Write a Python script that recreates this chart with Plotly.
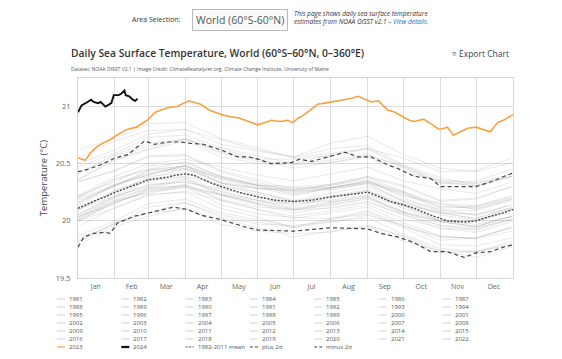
import plotly.graph_objects as go

# ---------------- data ----------------
month_names = ["Jan", "Feb", "Mar", "Apr", "May", "Jun", "Jul", "Aug", "Sep", "Oct", "Nov", "Dec"]
month_starts = [1, 32, 60, 91, 121, 152, 182, 213, 244, 274, 305, 335, 366]
month_mids = [16, 46, 75, 105.5, 136, 166.5, 197, 228, 258.5, 289, 319.5, 350]
y_ticks = [19.5, 20, 20.5, 21]

gray_days = [1, 32, 60, 91, 121, 152, 182, 213, 244, 274, 305, 335, 365]
y1981 = [None, None, None, None, None, None, None, None, 19.96, 19.87, 19.74, 19.73, 19.80]
y1982 = [19.81, 19.98, 20.07, 20.16, 20.03, 19.97, 19.96, 19.99, 20.05, 19.96, 19.83, 19.85, 19.95]
y1983 = [20.00, 20.11, 20.23, 20.25, 20.11, 20.03, 19.94, 19.99, 20.03, 19.88, 19.76, 19.73, 19.79]
y1984 = [19.82, 19.98, 20.07, 20.10, 20.02, 19.94, 19.86, 19.91, 19.95, 19.82, 19.74, 19.68, 19.77]
y1985 = [19.79, 19.95, 20.04, 20.11, 19.97, 19.91, 19.89, 19.90, 19.96, 19.86, 19.72, 19.73, 19.82]
y1986 = [19.84, 19.97, 20.12, 20.16, 20.05, 19.99, 19.94, 20.01, 20.08, 19.95, 19.86, 19.85, 19.94]
y1987 = [20.00, 20.16, 20.27, 20.30, 20.23, 20.15, 20.09, 20.14, 20.19, 20.07, 19.99, 19.95, 20.04]
y1988 = [20.03, 20.18, 20.24, 20.30, 20.14, 20.06, 20.03, 20.02, 20.06, 19.94, 19.79, 19.78, 19.85]
y1989 = [19.87, 20.00, 20.15, 20.19, 20.07, 20.01, 19.95, 20.02, 20.09, 19.96, 19.86, 19.85, 19.94]
y1990 = [20.00, 20.16, 20.26, 20.29, 20.22, 20.14, 20.07, 20.12, 20.17, 20.05, 19.96, 19.92, 20.01]
y1991 = [20.01, 20.17, 20.25, 20.32, 20.19, 20.12, 20.10, 20.11, 20.16, 20.06, 19.93, 19.93, 20.02]
y1992 = [20.04, 20.15, 20.28, 20.31, 20.18, 20.10, 20.02, 20.07, 20.12, 19.98, 19.87, 19.84, 19.91]
y1993 = [19.95, 20.12, 20.22, 20.26, 20.18, 20.10, 20.04, 20.09, 20.14, 20.02, 19.94, 19.90, 19.99]
y1994 = [20.03, 20.20, 20.28, 20.36, 20.23, 20.16, 20.15, 20.17, 20.22, 20.13, 20.00, 20.00, 20.10]
y1995 = [20.10, 20.22, 20.35, 20.38, 20.25, 20.18, 20.10, 20.16, 20.21, 20.07, 19.96, 19.94, 20.01]
y1996 = [20.02, 20.18, 20.29, 20.31, 20.23, 20.15, 20.10, 20.14, 20.20, 20.08, 19.99, 19.95, 20.04]
y1997 = [20.09, 20.27, 20.37, 20.46, 20.33, 20.28, 20.28, 20.31, 20.38, 20.30, 20.17, 20.19, 20.30]
y1998 = [20.34, 20.44, 20.56, 20.57, 20.43, 20.34, 20.25, 20.29, 20.33, 20.17, 20.05, 20.01, 20.07]
y1999 = [20.05, 20.21, 20.31, 20.34, 20.26, 20.18, 20.11, 20.16, 20.21, 20.08, 20.00, 19.95, 20.04]
y2000 = [20.06, 20.22, 20.30, 20.37, 20.23, 20.18, 20.16, 20.18, 20.23, 20.14, 20.00, 20.00, 20.10]
y2001 = [20.12, 20.24, 20.39, 20.42, 20.31, 20.25, 20.18, 20.24, 20.30, 20.17, 20.07, 20.06, 20.14]
y2002 = [20.15, 20.31, 20.42, 20.45, 20.38, 20.31, 20.24, 20.29, 20.34, 20.22, 20.15, 20.10, 20.19]
y2003 = [20.21, 20.37, 20.45, 20.52, 20.38, 20.31, 20.29, 20.29, 20.34, 20.24, 20.09, 20.09, 20.18]
y2004 = [20.18, 20.30, 20.44, 20.48, 20.37, 20.29, 20.22, 20.29, 20.35, 20.23, 20.13, 20.11, 20.19]
y2005 = [20.20, 20.36, 20.45, 20.48, 20.39, 20.31, 20.23, 20.28, 20.32, 20.18, 20.10, 20.05, 20.14]
y2006 = [20.16, 20.32, 20.40, 20.48, 20.34, 20.29, 20.27, 20.29, 20.35, 20.26, 20.12, 20.13, 20.22]
y2007 = [20.20, 20.31, 20.44, 20.46, 20.33, 20.25, 20.17, 20.21, 20.26, 20.11, 20.00, 19.97, 20.04]
y2008 = [20.05, 20.21, 20.32, 20.34, 20.28, 20.21, 20.13, 20.20, 20.26, 20.14, 20.07, 20.02, 20.12]
y2009 = [20.13, 20.31, 20.40, 20.49, 20.36, 20.31, 20.30, 20.32, 20.39, 20.31, 20.18, 20.20, 20.30]
y2010 = [20.34, 20.44, 20.57, 20.58, 20.44, 20.36, 20.27, 20.31, 20.36, 20.20, 20.08, 20.05, 20.11]
y2011 = [20.10, 20.26, 20.36, 20.39, 20.31, 20.23, 20.17, 20.22, 20.27, 20.15, 20.07, 20.02, 20.11]
y2012 = [20.16, 20.32, 20.41, 20.48, 20.33, 20.28, 20.26, 20.27, 20.33, 20.25, 20.11, 20.12, 20.20]
y2013 = [20.22, 20.34, 20.48, 20.51, 20.39, 20.32, 20.26, 20.32, 20.38, 20.25, 20.15, 20.13, 20.21]
y2014 = [20.22, 20.39, 20.50, 20.54, 20.47, 20.40, 20.35, 20.41, 20.47, 20.35, 20.28, 20.24, 20.34]
y2015 = [20.36, 20.54, 20.63, 20.72, 20.60, 20.54, 20.54, 20.57, 20.63, 20.55, 20.43, 20.44, 20.55]
y2016 = [20.62, 20.72, 20.85, 20.86, 20.72, 20.64, 20.55, 20.59, 20.64, 20.48, 20.36, 20.33, 20.39]
y2017 = [20.42, 20.58, 20.68, 20.71, 20.63, 20.54, 20.46, 20.51, 20.56, 20.43, 20.35, 20.30, 20.39]
y2018 = [20.36, 20.53, 20.62, 20.70, 20.56, 20.50, 20.49, 20.51, 20.57, 20.48, 20.34, 20.35, 20.45]
y2019 = [20.50, 20.62, 20.76, 20.80, 20.67, 20.61, 20.56, 20.68, 20.74, 20.58, 20.46, 20.43, 20.51]
y2020 = [20.55, 20.70, 20.79, 20.80, 20.71, 20.62, 20.56, 20.63, 20.66, 20.49, 20.38, 20.31, 20.39]
y2021 = [20.41, 20.57, 20.65, 20.72, 20.59, 20.52, 20.50, 20.53, 20.58, 20.47, 20.33, 20.33, 20.41]
y2022 = [20.47, 20.59, 20.73, 20.75, 20.64, 20.57, 20.50, 20.58, 20.63, 20.46, 20.33, 20.31, 20.39]

days_2023 = [1, 7, 12, 17, 22, 28, 32, 42, 50, 59, 66, 76, 84, 91, 94, 104, 111, 121, 129, 136,
             146, 152, 158, 163, 171, 177, 181, 186, 191, 197, 202, 208, 213, 219, 224, 230, 236,
             241, 247, 253, 257, 261, 267, 274, 279, 283, 287, 291, 297, 304, 308, 311, 316, 322,
             328, 335, 341, 347, 353, 358, 366]
vals_2023 = [20.55, 20.53, 20.60, 20.65, 20.68, 20.71, 20.74, 20.80, 20.82, 20.88, 20.95, 20.99, 21.00,
             21.04, 21.05, 21.02, 20.97, 20.93, 20.91, 20.90, 20.86, 20.84, 20.86, 20.88, 20.87, 20.88,
             20.86, 20.90, 20.93, 20.98, 21.02, 21.03, 21.04, 21.05, 21.06, 21.07, 21.09, 21.07, 21.04,
             21.05, 21.01, 20.97, 20.95, 20.91, 20.88, 20.87, 20.88, 20.89, 20.85, 20.80, 20.81, 20.82,
             20.75, 20.78, 20.81, 20.82, 20.80, 20.78, 20.86, 20.88, 20.93]

days_2024 = [1, 4, 9, 12, 14, 18, 20, 24, 29, 31, 35, 37, 40, 41, 44, 47, 49, 51]
vals_2024 = [20.95, 21.01, 21.04, 21.06, 21.04, 21.03, 21.04, 21.00, 21.03, 21.10, 21.10, 21.11,
             21.14, 21.10, 21.09, 21.06, 21.05, 21.07]

mean_days = [1, 9, 16, 24, 32, 40, 46, 53, 60, 68, 75, 83, 91, 98, 106, 113, 121, 136, 152, 167,
             182, 197, 213, 228, 244, 252, 263, 274, 283, 297, 311, 325, 335, 347, 358, 366]
mean_vals = [20.11, 20.15, 20.18, 20.21, 20.25, 20.28, 20.30, 20.33, 20.36, 20.37, 20.38, 20.40,
             20.41, 20.40, 20.36, 20.33, 20.30, 20.25, 20.21, 20.18, 20.17, 20.18, 20.21, 20.23,
             20.25, 20.22, 20.17, 20.14, 20.11, 20.05, 20.00, 19.99, 20.00, 20.04, 20.07, 20.10]

plus_days = [1, 9, 20, 32, 43, 51, 57, 65, 76, 87, 93, 106, 121, 135, 144, 152, 163, 180, 187,
             197, 208, 225, 236, 247, 261, 269, 283, 297, 305, 316, 335, 347, 366]
plus_vals = [20.43, 20.45, 20.49, 20.55, 20.58, 20.65, 20.70, 20.67, 20.69, 20.69, 20.68, 20.67,
             20.62, 20.56, 20.56, 20.54, 20.50, 20.51, 20.54, 20.52, 20.55, 20.60, 20.56, 20.56,
             20.49, 20.46, 20.39, 20.37, 20.30, 20.30, 20.30, 20.34, 20.42]

minus_days = [1, 6, 14, 23, 28, 34, 48, 60, 76, 81, 93, 104, 121, 140, 152, 182, 213, 244, 255,
              269, 283, 297, 311, 325, 335, 347, 358, 366]
minus_vals = [19.77, 19.86, 19.89, 19.90, 19.89, 19.98, 20.04, 20.07, 20.11, 20.12, 20.10, 20.05,
              20.01, 19.95, 19.92, 19.91, 19.94, 19.93, 19.89, 19.86, 19.81, 19.73, 19.73, 19.68,
              19.72, 19.73, 19.77, 19.79]

gray_years = [1981, 1982, 1983, 1984, 1985, 1986, 1987, 1988, 1989, 1990, 1991, 1992, 1993, 1994,
              1995, 1996, 1997, 1998, 1999, 2000, 2001, 2002, 2003, 2004, 2005, 2006, 2007, 2008,
              2009, 2010, 2011, 2012, 2013, 2014, 2015, 2016, 2017, 2018, 2019, 2020, 2021, 2022]
gray_series = [y1981, y1982, y1983, y1984, y1985, y1986, y1987, y1988, y1989, y1990, y1991, y1992,
               y1993, y1994, y1995, y1996, y1997, y1998, y1999, y2000, y2001, y2002, y2003, y2004,
               y2005, y2006, y2007, y2008, y2009, y2010, y2011, y2012, y2013, y2014, y2015, y2016,
               y2017, y2018, y2019, y2020, y2021, y2022]

# ---------------- styling / layout ----------------
OFF = 8                      # page body margin the browser adds around the figure
W, H = 562 - OFF, 359 - OFF
PLOT_L, PLOT_R, PLOT_T, PLOT_B = 78, 513, 78, 278     # plot box in window pixels
L, T = PLOT_L - OFF, PLOT_T - OFF
R, B = W - (PLOT_R - OFF), H - (PLOT_B - OFF)
PW, PH = PLOT_R - PLOT_L, PLOT_B - PLOT_T
FONT = "Open Sans"
GRAY = "rgba(150,150,150,0.21)"
ORANGE = "#f4a340"
DASHC = "#444444"


def pxx(px):
    return (px - PLOT_L) / PW


def pxy(py):
    return (PLOT_B - py) / PH


fig = go.Figure()

for yr, vals in zip(gray_years, gray_series):
    fig.add_trace(go.Scatter(x=gray_days, y=vals, mode="lines", name=str(yr),
                             line=dict(color=GRAY, width=1), hoverinfo="skip", showlegend=False))

fig.add_trace(go.Scatter(x=days_2023, y=vals_2023, mode="lines", name="2023",
                         line=dict(color=ORANGE, width=1.6), showlegend=False))
fig.add_trace(go.Scatter(x=days_2024, y=vals_2024, mode="lines", name="2024",
                         line=dict(color="#111111", width=1.9), showlegend=False))
fig.add_trace(go.Scatter(x=mean_days, y=mean_vals, mode="lines", name="1982-2011 mean",
                         line=dict(color=DASHC, width=1.4, dash="2px,1.5px"), showlegend=False))
fig.add_trace(go.Scatter(x=plus_days, y=plus_vals, mode="lines", name="plus 2σ",
                         line=dict(color=DASHC, width=1.2, dash="4px,3px"), showlegend=False))
fig.add_trace(go.Scatter(x=minus_days, y=minus_vals, mode="lines", name="minus 2σ",
                         line=dict(color=DASHC, width=1.2, dash="4px,3px"), showlegend=False))

annotations = []
shapes = []

# header
annotations.append(dict(xref="paper", yref="paper", x=pxx(130), y=pxy(20), xanchor="left",
                        yanchor="middle", showarrow=False, text="Area Selection:",
                        font=dict(family=FONT, size=7, color="#333")))
annotations.append(dict(xref="paper", yref="paper", x=pxx(239.5), y=pxy(20), xanchor="center",
                        yanchor="middle", showarrow=False, text="World (60°S-60°N)",
                        font=dict(family=FONT, size=10.5, color="#555"),
                        bordercolor="#bbbbbb", borderwidth=1, borderpad=3, bgcolor="#fbfbfb"))
annotations.append(dict(xref="paper", yref="paper", x=pxx(292), y=pxy(18), xanchor="left",
                        yanchor="middle", showarrow=False, align="left",
                        text="<i>This page shows daily sea surface temperature<br>"
                             "estimates from NOAA OISST v2.1 – <span style='color:#2a6ebb'>View details.</span></i>",
                        font=dict(family=FONT, size=6.5, color="#333")))
annotations.append(dict(xref="paper", yref="paper", x=pxx(69), y=pxy(53), xanchor="left",
                        yanchor="middle", showarrow=False,
                        text="Daily Sea Surface Temperature, World (60°S–60°N, 0–360°E)",
                        font=dict(family=FONT, size=10.3, color="#333", weight=600)))
annotations.append(dict(xref="paper", yref="paper", x=pxx(450), y=pxy(54), xanchor="left",
                        yanchor="middle", showarrow=False, text="≡ Export Chart",
                        font=dict(family=FONT, size=8.5, color="#333f5a")))
annotations.append(dict(xref="paper", yref="paper", x=pxx(69), y=pxy(69), xanchor="left",
                        yanchor="middle", showarrow=False,
                        text="Dataset: NOAA OISST V2.1 | Image Credit: ClimateReanalyzer.org, "
                             "Climate Change Institute, University of Maine",
                        font=dict(family=FONT, size=5, color="#555")))

# legend (7 columns, row-major like the original)
legend_names = [str(y) for y in gray_years] + ["2023", "2024", "1982-2011 mean", "plus 2σ", "minus 2σ"]
for i, name in enumerate(legend_names):
    col, row = i % 7, i // 7
    tx = 67 + col * 64.3
    ty = 299 + row * 8
    annotations.append(dict(xref="paper", yref="paper", x=pxx(tx), y=pxy(ty), xanchor="left",
                            yanchor="middle", showarrow=False, text=name,
                            font=dict(family=FONT, size=6, color="#555")))
    if name == "2023":
        ln = dict(color=ORANGE, width=1.2)
    elif name == "2024":
        ln = dict(color="#111111", width=2.2)
    elif name == "1982-2011 mean":
        ln = dict(color=DASHC, width=1.2, dash="2px,1.5px")
    elif name in ("plus 2σ", "minus 2σ"):
        ln = dict(color=DASHC, width=1.2, dash="3px,2px")
    else:
        ln = dict(color="#d2d2d2", width=1)
    shapes.append(dict(type="line", xref="paper", yref="paper", x0=pxx(tx - 10), x1=pxx(tx - 2),
                       y0=pxy(ty), y1=pxy(ty), line=ln))

fig.update_layout(
    width=W, height=H,
    margin=dict(l=L, r=R, t=T, b=B, pad=0),
    paper_bgcolor="white", plot_bgcolor="white",
    font=dict(family=FONT, color="#555"),
    showlegend=False,
    annotations=annotations,
    shapes=shapes,
    xaxis=dict(range=[1, 366], tickmode="array", tickvals=month_mids, ticktext=month_names,
               showgrid=False, zeroline=False, ticks="outside", ticklen=2, tickcolor="rgba(0,0,0,0)",
               tickfont=dict(family=FONT, size=7, color="#666"),
               showline=True, linecolor="#d6d6d6", linewidth=1, mirror=True,
               minor=dict(tickmode="array", tickvals=month_starts, showgrid=True,
                          gridcolor="#dcdcdc", gridwidth=1, ticks="")),
    yaxis=dict(range=[19.5, 21.25], tickmode="array", tickvals=y_ticks,
               ticktext=["19.5", "20", "20.5", "21"],
               showgrid=True, gridcolor="#dcdcdc", gridwidth=1, zeroline=False,
               ticks="outside", ticklen=5, tickcolor="rgba(0,0,0,0)",
               tickfont=dict(family=FONT, size=7.5, color="#666"),
               showline=True, linecolor="#d6d6d6", linewidth=1, mirror=True,
               title=dict(text="Temperature (°C)", standoff=6,
                          font=dict(family=FONT, size=9.5, color="#444"))),
)

fig.write_html("out.html")
